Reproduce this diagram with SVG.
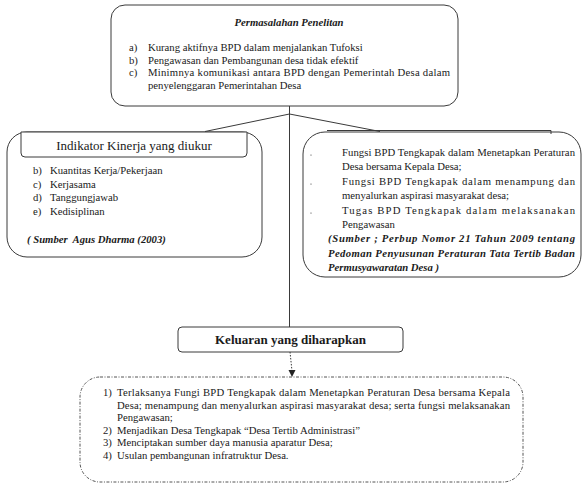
<svg xmlns="http://www.w3.org/2000/svg" width="582" height="483" viewBox="0 0 582 483">
<style>
.box{fill:#fff;stroke:#3a3a3a;stroke-width:1}
text{font-family:'Liberation Serif',Tinos,'Times New Roman','DejaVu Serif',serif;font-size:10.7px;fill:#1a1a1a}
.bi{font-weight:bold;font-style:italic}
.b{font-weight:bold}
.h{font-size:13px}
.ln{stroke:#3a3a3a;stroke-width:1;fill:none}
</style>
<rect width="582" height="483" fill="#fff"/>
<g id="connectors">
<line class="ln" x1="289.5" y1="106" x2="289.5" y2="327"/>
<polyline class="ln" points="205,131.5 289.5,114 380,131.5"/>
<path class="ln" d="M290,352 L292,371" stroke-dasharray="1.5,1.5"/>
<path d="M288.5,370 L295.5,370 L292,377 Z" fill="#222"/>
</g>
<g id="permasalahan">
<rect class="box" x="111" y="5" width="347" height="101" rx="14"/>
<text class="bi" x="289" y="26" text-anchor="middle">Permasalahan Penelitan</text>
<text x="129" y="51">a)</text>
<text x="148" y="51">Kurang aktifnya BPD dalam menjalankan Tufoksi</text>
<text x="129" y="63.5">b)</text>
<text x="148" y="63.5">Pengawasan dan Pembangunan desa tidak efektif</text>
<text x="129" y="76">c)</text>
<text x="148" y="76" textLength="302" lengthAdjust="spacing">Minimnya komunikasi antara BPD dengan Pemerintah Desa dalam</text>
<text x="148" y="88.5">penyelenggaran Pemerintahan Desa</text>
</g>
<g id="indikator">
<rect class="box" x="7" y="132" width="255" height="125" rx="20"/>
<path class="box" d="M21,132 L247,132 L247,153 Q247,157 243,157 L25,157 Q21,157 21,153 Z"/>
<text class="h" x="134" y="150" text-anchor="middle">Indikator Kinerja yang diukur</text>
<text x="33" y="174">b)</text>
<text x="50" y="174">Kuantitas Kerja/Pekerjaan</text>
<text x="33" y="187.5">c)</text>
<text x="50" y="187.5">Kerjasama</text>
<text x="33" y="201">d)</text>
<text x="50" y="201">Tanggungjawab</text>
<text x="33" y="214.5">e)</text>
<text x="50" y="214.5">Kedisiplinan</text>
<text class="bi" x="27" y="243" xml:space="preserve">( Sumber  Agus Dharma (2003)</text>
</g>
<g id="fungsi">
<rect class="box" x="303" y="132" width="278" height="145" rx="22"/>
<path class="ln" d="M327,130.5 L551,130.5 L551,134"/>
<circle cx="311" cy="155" r="0.6" fill="#333"/>
<circle cx="311" cy="184" r="0.6" fill="#333"/>
<circle cx="311" cy="213" r="0.6" fill="#333"/>
<text x="342" y="155.5" textLength="233" lengthAdjust="spacing">Fungsi BPD Tengkapak dalam Menetapkan Peraturan</text>
<text x="342" y="170">Desa bersama Kepala Desa;</text>
<text x="342" y="184.5" textLength="233" lengthAdjust="spacing">Fungsi BPD Tengkapak dalam menampung dan</text>
<text x="342" y="199">menyalurkan aspirasi masyarakat desa;</text>
<text x="342" y="213.5" textLength="233" lengthAdjust="spacing">Tugas BPD Tengkapak dalam melaksanakan</text>
<text x="342" y="227.5">Pengawasan</text>
<text class="bi" x="328" y="242" textLength="247" lengthAdjust="spacing">(Sumber ; Perbup Nomor 21 Tahun 2009 tentang</text>
<text class="bi" x="328" y="256.5" textLength="247" lengthAdjust="spacing">Pedoman Penyusunan Peraturan Tata Tertib Badan</text>
<text class="bi" x="328" y="270.5">Permusyawaratan Desa )</text>
</g>
<g id="keluaran">
<rect class="box" x="178" y="327" width="225" height="25" rx="4"/>
<text class="b h" x="290.5" y="344" text-anchor="middle">Keluaran yang diharapkan</text>
</g>
<g id="hasil">
<rect x="80" y="377" width="443" height="105" rx="20" fill="none" stroke="#555" stroke-width="1" stroke-dasharray="3,1.5,1,1.5"/>
<text x="103" y="396">1)</text>
<text x="117" y="396" textLength="393" lengthAdjust="spacing">Terlaksanya Fungi BPD Tengkapak dalam Menetapkan Peraturan Desa bersama Kepala</text>
<text x="117" y="408.5" textLength="393" lengthAdjust="spacing">Desa; menampung dan menyalurkan aspirasi masyarakat desa; serta fungsi melaksanakan</text>
<text x="117" y="421">Pengawasan;</text>
<text x="103" y="433.5">2)</text>
<text x="117" y="433.5">Menjadikan Desa Tengkapak “Desa Tertib Administrasi”</text>
<text x="103" y="446">3)</text>
<text x="117" y="446">Menciptakan sumber daya manusia aparatur Desa;</text>
<text x="103" y="458.5">4)</text>
<text x="117" y="458.5">Usulan pembangunan infratruktur Desa.</text>
</g>
</svg>
